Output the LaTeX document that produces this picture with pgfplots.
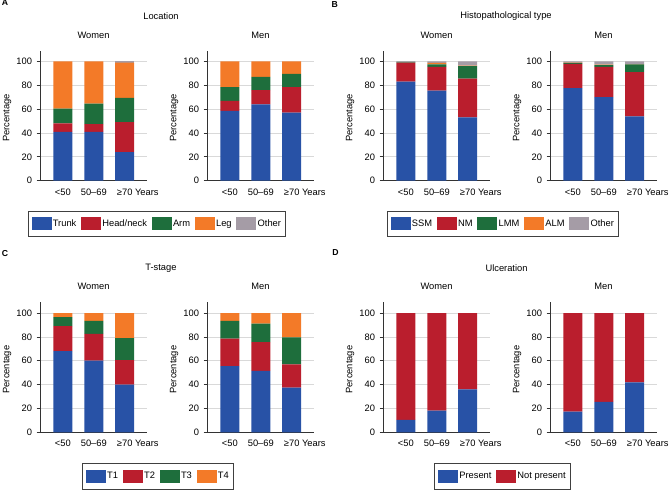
\documentclass[border=0pt]{standalone}
\usepackage{fontspec}
\setmainfont{Liberation Sans}
\usepackage{pgfplots}
\pgfplotsset{compat=1.18}
\definecolor{cB}{RGB}{40,82,166}
\definecolor{cR}{RGB}{186,30,45}
\definecolor{cG}{RGB}{30,110,60}
\definecolor{cO}{RGB}{243,122,40}
\definecolor{cY}{RGB}{165,156,166}
\newcommand{\fs}{\fontsize{7}{8.4}\selectfont}
\pgfplotsset{
  every axis plot post/.append style={legend image code/.code={\fill[##1] (0pt,-4.9pt) rectangle (15pt,4.9pt);}},
  panel/.style={
    scale only axis, width=80.25pt, height=97.5pt,
    ybar stacked, bar width=14.25pt,
    xmin=-0.74, xmax=2.72, ymin=0, ymax=109,
    axis x line*=bottom, axis y line*=left,
    axis line style={-, draw=black!80, line width=0.5pt},
    xtick={0,1,2}, xticklabels={<50,50--69,{≥70\rlap{ Years}}},
    ytick={0,20,40,60,80,100},
    ymajorgrids, grid style={draw=black!15, line width=0.5pt},
    tick align=outside, major tick length=2.5pt,
    x tick style={draw=none}, y tick style={draw=black!80, line width=0.5pt},
    tick label style={font=\fs},
    /pgf/number format/assume math mode=true,
    ylabel={Percentage}, ylabel style={font=\fs, at={(axis description cs:-0.308,0.482)}, anchor=center},
    title style={font=\fs, at={(axis description cs:0.5,1.059)}, anchor=center},
    legend style={font=\fs, draw=black!75, line width=0.6pt, legend columns=-1, anchor=center,
      inner xsep=2.5pt, inner ysep=4.3pt, nodes={inner xsep=1pt},
      /tikz/every even column/.append style={column sep=2.5pt}},
  },
}
\begin{document}
\begin{tikzpicture}
\path[use as bounding box] (0,0) rectangle (501.75pt,-369.75pt);
% panel labels and titles
\node[font=\fontsize{6.5}{7}\selectfont\bfseries] at (3.75pt,-2.25pt) {A};
\node[font=\fontsize{6.5}{7}\selectfont\bfseries] at (251pt,-3.4pt) {B};
\node[font=\fontsize{6.5}{7}\selectfont\bfseries] at (3.75pt,-190pt) {C};
\node[font=\fontsize{6.5}{7}\selectfont\bfseries] at (251.6pt,-189.4pt) {D};
\node[font=\fs] at (120.75pt,-12pt) {Location};
\node[font=\fs] at (379.5pt,-12pt) {Histopathological type};
\node[font=\fs] at (120.75pt,-201pt) {T-stage};
\node[font=\fs] at (379.9pt,-201pt) {Ulceration};

% ---------- A Location ----------
\begin{axis}[panel, at={(30pt,-135.5pt)}, anchor=south west, title={Women},
  legend style={at={(1.093,-0.333)}}]
\addplot[fill=cB, draw=none] coordinates {(0,41) (1,41) (2,24)};
\addplot[fill=cR, draw=none] coordinates {(0,7) (1,6.5) (2,25)};
\addplot[fill=cG, draw=none] coordinates {(0,12.5) (1,17) (2,20.5)};
\addplot[fill=cO, draw=none] coordinates {(0,39.5) (1,35.5) (2,29.5)};
\addplot[fill=cY, draw=none] coordinates {(0,0) (1,0) (2,1)};
\legend{Trunk,Head/neck,Arm,Leg,Other}
\end{axis}
\begin{axis}[panel, at={(155.25pt,-135.5pt)}, anchor=south west, title={Men}]
\addplot[fill=cB, draw=none] coordinates {(0,58.5) (1,64) (2,57)};
\addplot[fill=cR, draw=none] coordinates {(0,8.5) (1,12) (2,21.5)};
\addplot[fill=cG, draw=none] coordinates {(0,11.5) (1,11) (2,11)};
\addplot[fill=cO, draw=none] coordinates {(0,21.5) (1,13) (2,10.5)};
\addplot[fill=cY, draw=none] coordinates {(0,0) (1,0) (2,0)};
\end{axis}

% ---------- B Histopathological type ----------
\begin{axis}[panel, at={(287.25pt,-135.5pt)}, anchor=south west, title={Women},
  legend style={at={(1.121,-0.333)}}]
\addplot[fill=cB, draw=none] coordinates {(0,83) (1,75.5) (2,53)};
\addplot[fill=cR, draw=none] coordinates {(0,16) (1,20) (2,32.5)};
\addplot[fill=cG, draw=none] coordinates {(0,0.5) (1,2) (2,10.5)};
\addplot[fill=cO, draw=none] coordinates {(0,0) (1,1.3) (2,0.5)};
\addplot[fill=cY, draw=none] coordinates {(0,0.5) (1,1.2) (2,3.5)};
\legend{SSM,NM,LMM,ALM,Other}
\end{axis}
\begin{axis}[panel, at={(412.5pt,-135.5pt)}, anchor=south west, title={Men}]
\addplot[fill=cB, draw=none] coordinates {(0,77.5) (1,70) (2,54)};
\addplot[fill=cR, draw=none] coordinates {(0,20.5) (1,25.5) (2,37)};
\addplot[fill=cG, draw=none] coordinates {(0,0.8) (1,1.3) (2,6.5)};
\addplot[fill=cO, draw=none] coordinates {(0,0.2) (1,0.5) (2,0.3)};
\addplot[fill=cY, draw=none] coordinates {(0,1) (1,2.7) (2,2.2)};
\end{axis}

% ---------- C T-stage ----------
\begin{axis}[panel, at={(30pt,-324.2pt)}, anchor=south west, title={Women},
  legend style={at={(1.103,-0.340)}}]
\addplot[fill=cB, draw=none] coordinates {(0,68) (1,60) (2,40)};
\addplot[fill=cR, draw=none] coordinates {(0,21) (1,22.5) (2,20.5)};
\addplot[fill=cG, draw=none] coordinates {(0,7.5) (1,11) (2,18.5)};
\addplot[fill=cO, draw=none] coordinates {(0,3.5) (1,6.5) (2,21)};
\legend{T1,T2,T3,T4}
\end{axis}
\begin{axis}[panel, at={(155.25pt,-324.2pt)}, anchor=south west, title={Men}]
\addplot[fill=cB, draw=none] coordinates {(0,55.5) (1,51.5) (2,37.5)};
\addplot[fill=cR, draw=none] coordinates {(0,23) (1,24) (2,19.5)};
\addplot[fill=cG, draw=none] coordinates {(0,15) (1,15.5) (2,22.5)};
\addplot[fill=cO, draw=none] coordinates {(0,6.5) (1,9) (2,20.5)};
\end{axis}

% ---------- D Ulceration ----------
\begin{axis}[panel, at={(287.25pt,-324.2pt)}, anchor=south west, title={Women},
  legend style={at={(1.117,-0.340)}}]
\addplot[fill=cB, draw=none] coordinates {(0,10.3) (1,18.2) (2,36)};
\addplot[fill=cR, draw=none] coordinates {(0,89.7) (1,81.8) (2,64)};
\legend{Present,Not present}
\end{axis}
\begin{axis}[panel, at={(412.5pt,-324.2pt)}, anchor=south west, title={Men}]
\addplot[fill=cB, draw=none] coordinates {(0,17.3) (1,25.4) (2,41.9)};
\addplot[fill=cR, draw=none] coordinates {(0,82.7) (1,74.6) (2,58.1)};
\end{axis}
\end{tikzpicture}
\end{document}
